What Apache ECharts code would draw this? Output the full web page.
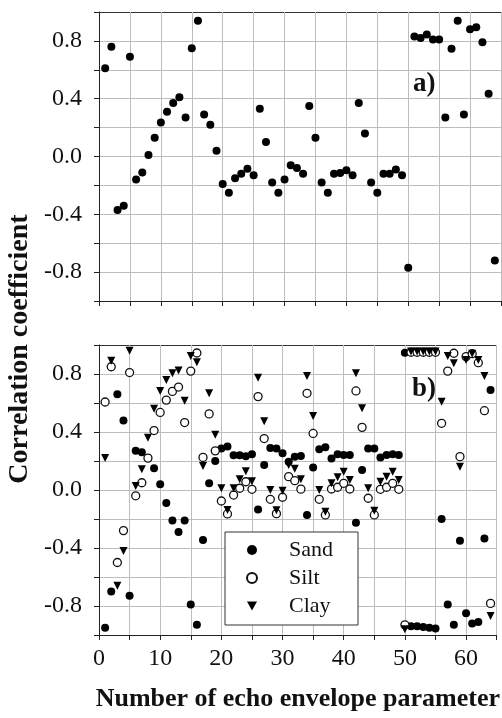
<!DOCTYPE html>
<html><head><meta charset="utf-8">
<script src="https://cdn.jsdelivr.net/npm/echarts@6/dist/echarts.min.js"></script>
<style>html,body{margin:0;padding:0;background:#fff}#c{width:502px;height:718px}</style>
</head><body><div id="c"></div>
<script>
const paramNumbers = [1,2,3,4,5,6,7,8,9,10,11,12,13,14,15,16,17,18,19,20,21,22,23,24,25,26,27,28,29,30,31,32,33,34,35,36,37,38,39,40,41,42,43,44,45,46,47,48,49,50,51,52,53,54,55,56,57,58,59,60,61,62,63,64];

const panelA = [0.61,0.76,-0.37,-0.34,0.69,-0.16,-0.11,0.01,0.13,0.235,0.31,0.37,0.41,0.27,0.75,0.94,0.29,0.22,0.04,-0.19,-0.25,-0.15,-0.12,-0.085,-0.13,0.33,0.10,-0.18,-0.25,-0.16,-0.06,-0.08,-0.12,0.35,0.13,-0.18,-0.25,-0.12,-0.115,-0.095,-0.13,0.37,0.16,-0.18,-0.25,-0.12,-0.12,-0.09,-0.13,-0.77,0.83,0.82,0.845,0.81,0.81,0.27,0.745,0.94,0.29,0.88,0.895,0.79,0.435,-0.72];

const sand = [-0.95,-0.70,0.66,0.48,-0.73,0.27,0.26,0.22,0.15,0.04,-0.09,-0.21,-0.29,-0.21,-0.79,-0.93,-0.345,0.046,0.20,0.287,0.30,0.24,0.24,0.233,0.246,-0.135,0.172,0.29,0.287,0.253,0.195,0.23,0.234,-0.172,0.156,0.281,0.294,0.218,0.246,0.241,0.241,-0.225,0.138,0.287,0.287,0.225,0.241,0.246,0.241,0.947,-0.94,-0.94,-0.945,-0.95,-0.955,-0.20,-0.79,-0.93,-0.35,-0.85,-0.92,-0.91,-0.335,0.69];

const silt = [0.607,0.85,-0.50,-0.28,0.81,-0.04,0.05,0.22,0.41,0.535,0.62,0.68,0.71,0.465,0.82,0.945,0.225,0.525,0.27,-0.076,-0.165,-0.035,0.012,0.057,0.005,0.644,0.355,-0.064,-0.163,-0.05,0.092,0.064,0.006,0.667,0.39,-0.064,-0.172,0.007,0.019,0.046,0.007,0.683,0.432,-0.057,-0.172,0.005,0.019,0.046,0.005,-0.93,0.95,0.95,0.95,0.95,0.95,0.46,0.82,0.943,0.23,0.92,0.94,0.878,0.547,-0.782];

const clay = [0.221,0.892,-0.66,-0.42,0.96,0.028,0.143,0.36,0.56,0.683,0.759,0.805,0.825,0.616,0.924,0.881,0.166,0.667,0.381,0.012,-0.138,0.012,0.074,0.13,0.06,0.775,0.475,0.0,-0.14,-0.005,0.172,0.146,0.074,0.786,0.51,0.0,-0.15,0.046,0.088,0.126,0.069,0.805,0.563,0.012,-0.143,0.057,0.092,0.126,0.069,-0.96,0.955,0.955,0.955,0.955,0.955,0.609,0.924,0.874,0.161,0.897,0.94,0.897,0.786,-0.869];

const yTickLabels = ['-0.8','-0.4','0.0','0.4','0.8'];
const xTickLabels = ['0','10','20','30','40','50','60'];

const SERIF = '"Liberation Serif","Times New Roman",serif';
const pairs = arr => arr.map((v, i) => [paramNumbers[i], v]);

const gridColor = '#bdbdbd';
const axisColor = '#222';
const topBorderColor = '#333';
const DOWN_TRIANGLE = 'path://M0,0L10,0L5,9Z';
// y split lines run from -1 to 1 (11 lines); the last one is the dark top frame
const ySplitColors = [gridColor, gridColor, gridColor, gridColor, gridColor, gridColor, gridColor, gridColor, gridColor, gridColor, topBorderColor];

function xAxisMain(gi, showLabels, extra) {
  return Object.assign({
    gridIndex: gi, type: 'value', min: 0, max: 65, interval: 5, position: 'bottom',
    axisLine: {show: true, onZero: false, lineStyle: {color: axisColor, width: 1, opacity: 1}},
    axisTick: {show: true, inside: false, length: 5, lineStyle: {color: axisColor, opacity: 1}},
    axisLabel: {show: showLabels, margin: 12, fontFamily: SERIF, fontSize: 24, color: '#111',
      formatter: v => { const s = String(Math.round(v)); return xTickLabels.indexOf(s) >= 0 ? s : ''; }},
    splitLine: {show: true, lineStyle: {color: gridColor, width: 1, type: 'solid', opacity: 1}}
  }, extra || {});
}
function yAxisMain(gi) {
  return {gridIndex: gi, type: 'value', min: -1, max: 1, interval: 0.2,
    axisLine: {show: true, onZero: false, lineStyle: {color: axisColor, width: 1, opacity: 1}},
    axisTick: {show: true, inside: false, length: 5, lineStyle: {color: axisColor, opacity: 1}},
    axisLabel: {margin: 17, fontFamily: SERIF, fontSize: 24, color: '#111',
      formatter: v => { const s = (Math.abs(v) < 1e-9 ? 0 : v).toFixed(1); return yTickLabels.indexOf(s) >= 0 ? s : ''; }},
    splitLine: {show: true, lineStyle: {color: ySplitColors, width: 1, type: 'solid', opacity: 1}}};
}

const chart = echarts.init(document.getElementById('c'), null, {renderer: 'canvas'});
chart.setOption({
  animation: false,
  backgroundColor: '#fff',
  grid: [
    {left: 99, top: 12, width: 402, height: 289},
    {left: 99, top: 345, width: 402, height: 290}
  ],
  xAxis: [
    xAxisMain(0, false),
    xAxisMain(1, true, {name: 'Number of echo envelope parameter', nameLocation: 'middle', nameGap: 51,
      nameTextStyle: {fontFamily: SERIF, fontSize: 26, fontWeight: 'bold', color: '#111'}})
  ],
  yAxis: [yAxisMain(0), yAxisMain(1)],
  legend: {
    orient: 'vertical', left: 225, top: 532,
    data: [{name: 'Sand', icon: 'circle'}, {name: 'Silt', icon: 'circle'}, {name: 'Clay', icon: DOWN_TRIANGLE}],
    itemWidth: 10, itemHeight: 10, itemGap: 6,
    padding: [7, 25, 8, 21], borderColor: '#333', borderWidth: 1, backgroundColor: '#fff',
    textStyle: {fontFamily: SERIF, fontSize: 22, color: '#111', padding: [0, 0, 0, 27], lineHeight: 22}
  },
  graphic: [
    {type: 'text', left: 413, top: 71, style: {text: 'a)', font: 'bold 27px ' + SERIF, fill: '#111'}},
    {type: 'text', left: 412, top: 376, style: {text: 'b)', font: 'bold 27px ' + SERIF, fill: '#111'}},
    {type: 'text', x: 20, y: 349, rotation: Math.PI / 2,
      style: {text: 'Correlation coefficient', font: 'bold 28px ' + SERIF, fill: '#111', align: 'center', verticalAlign: 'middle'}}
  ],
  series: [
    {name: 'a', type: 'scatter', xAxisIndex: 0, yAxisIndex: 0, data: pairs(panelA),
      symbol: 'circle', symbolSize: 8, itemStyle: {color: '#000', opacity: 1}},
    {name: 'Sand', type: 'scatter', xAxisIndex: 1, yAxisIndex: 1, data: pairs(sand),
      symbol: 'circle', symbolSize: 8, itemStyle: {color: '#000', opacity: 1}},
    {name: 'Silt', type: 'scatter', xAxisIndex: 1, yAxisIndex: 1, data: pairs(silt),
      symbol: 'circle', symbolSize: 8, itemStyle: {color: '#fff', borderColor: '#111', borderWidth: 1.3, opacity: 1}},
    {name: 'Clay', type: 'scatter', xAxisIndex: 1, yAxisIndex: 1, data: pairs(clay),
      symbol: 'triangle', symbolRotate: 180, symbolSize: 8, itemStyle: {color: '#000', opacity: 1}}
  ]
});
</script></body></html>
